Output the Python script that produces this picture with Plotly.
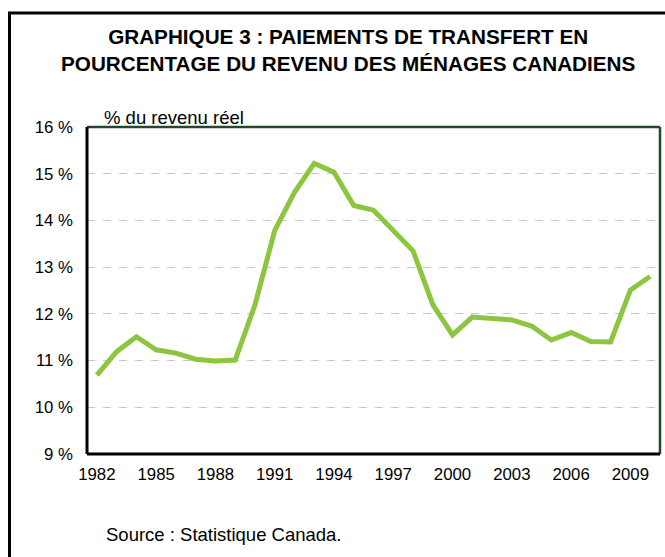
import plotly.graph_objects as go

years = [str(y) for y in range(1982, 2011)]
values = [10.69, 11.19, 11.51, 11.23, 11.16, 11.03, 10.99, 11.01, 12.19, 13.78,
          14.6, 15.22, 15.03, 14.32, 14.22, 13.8, 13.35, 12.2, 11.55, 11.93,
          11.91, 11.87, 11.74, 11.44, 11.6, 11.41, 11.4, 12.51, 12.8]
tick_years = [str(y) for y in range(1982, 2011, 3)]
y_ticks = [9, 10, 11, 12, 13, 14, 15, 16]
y_tick_labels = [f"{v} %" for v in y_ticks]

title_text = "GRAPHIQUE 3 : PAIEMENTS DE TRANSFERT EN<br>POURCENTAGE DU REVENU DES MÉNAGES CANADIENS"
unit_text = "% du revenu réel"
source_text = "Source : Statistique Canada."

# body margin removed via post_script, so figure coords = page coords
W, H = 665, 557
L, T = 87, 127
Rx, By = 660, 454
pw, ph = Rx - L, By - T

def px(x):
    return (x - L) / pw

def py(y):
    return (By - y) / ph

fig = go.Figure()
fig.add_trace(go.Scatter(
    x=years, y=values, mode="lines",
    line=dict(color="#8cc63f", width=5),
    hoverinfo="x+y",
))

font = "Liberation Sans, Arial, sans-serif"

fig.update_layout(
    width=W, height=H,
    margin=dict(l=L, r=W - Rx, t=T, b=H - By),
    paper_bgcolor="white", plot_bgcolor="white",
    showlegend=False,
    font=dict(family=font, size=17, color="#000000"),
    xaxis=dict(
        type="category", tickmode="array", tickvals=tick_years, ticktext=tick_years,
        showgrid=False, showline=False, zeroline=False, ticks="",
        tickfont=dict(size=16.8, family=font, color="black"), ticklabelstandoff=8,
        range=[-0.5, len(years) - 0.5],
    ),
    yaxis=dict(
        range=[9, 16], tickmode="array", tickvals=y_ticks, ticktext=y_tick_labels,
        showgrid=True, gridcolor="#c6c6c6", griddash="8px,8px", gridwidth=1,
        showline=False, zeroline=False, ticks="",
        tickfont=dict(size=16.8, family=font, color="black"), ticklabelstandoff=13,
    ),
    shapes=[
        # outer frame
        dict(type="rect", xref="paper", yref="paper",
             x0=px(9.5), x1=px(700), y0=py(13), y1=py(620),
             line=dict(color="black", width=3), layer="below"),
        # plot area top & right (dark green)
        dict(type="line", xref="paper", yref="paper", x0=0, x1=1, y0=1, y1=1,
             line=dict(color="#1f4a2b", width=2.5)),
        dict(type="line", xref="paper", yref="paper", x0=1, x1=1, y0=0, y1=1,
             line=dict(color="#1f4a2b", width=2.5)),
        # plot area left & bottom (black)
        dict(type="line", xref="paper", yref="paper", x0=0, x1=0, y0=0, y1=1,
             line=dict(color="black", width=3)),
        dict(type="line", xref="paper", yref="paper", x0=0, x1=1, y0=0, y1=0,
             line=dict(color="black", width=3)),
    ],
    annotations=[
        dict(text="<b>" + title_text + "</b>", xref="paper", yref="paper",
             x=px(348), y=py(50), xanchor="center", yanchor="middle",
             showarrow=False, font=dict(size=20.7, family=font, color="black"),
             align="center"),
        dict(text=unit_text, xref="paper", yref="paper",
             x=px(102), y=py(117), xanchor="left", yanchor="middle",
             showarrow=False, font=dict(size=18.5, family=font, color="black")),
        dict(text=source_text, xref="paper", yref="paper",
             x=px(104), y=py(534), xanchor="left", yanchor="middle",
             showarrow=False, font=dict(size=18.5, family=font, color="black")),
    ],
)

reset_page = (
    "document.documentElement.style.margin='0';"
    "document.documentElement.style.overflow='hidden';"
    "document.body.style.margin='0';"
    "document.body.style.padding='0';"
    "document.body.style.overflow='hidden';"
)

fig.write_html("out.html", post_script=reset_page,
               config={"displayModeBar": False})
